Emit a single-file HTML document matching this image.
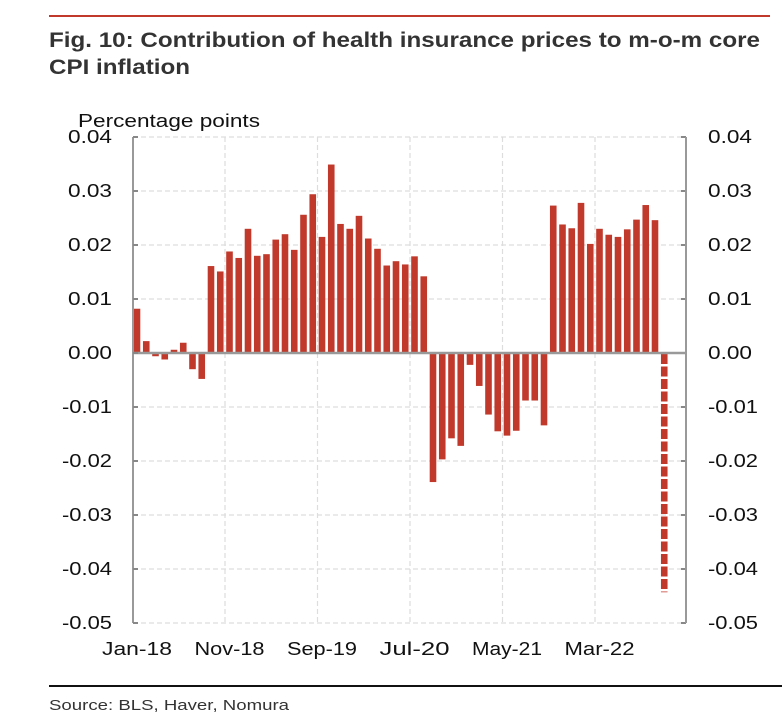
<!DOCTYPE html>
<html><head><meta charset="utf-8"><style>
body{margin:0;background:#fff;width:782px;height:720px;overflow:hidden;font-family:"Liberation Sans",Arial,sans-serif}
</style></head><body>
<svg width="782" height="720" xmlns="http://www.w3.org/2000/svg">
<line x1="49" y1="16" x2="770" y2="16" stroke="#c0392b" stroke-width="2"/>
<text x="49" y="47" font-size="21" font-weight="bold" fill="#333" textLength="711" lengthAdjust="spacingAndGlyphs">Fig. 10: Contribution of health insurance prices to m-o-m core</text>
<text x="49" y="74" font-size="21" font-weight="bold" fill="#333" textLength="141" lengthAdjust="spacingAndGlyphs">CPI inflation</text>
<text x="78" y="127" font-size="18" fill="#111" textLength="182" lengthAdjust="spacingAndGlyphs">Percentage points</text>
<g id="grid"></g>
<g id="bars"></g>
<g id="axes"></g>
<line x1="49" y1="686" x2="782" y2="686" stroke="#111" stroke-width="2"/>
<text x="49" y="710" font-size="15" fill="#333" textLength="240" lengthAdjust="spacingAndGlyphs">Source: BLS, Haver, Nomura</text>
</svg>
<script>
const values=[0.0082,0.0022,-0.0006,-0.0012,0.0006,0.0019,-0.003,-0.0048,0.0161,0.0151,0.0188,0.0176,0.023,0.018,0.0183,0.021,0.022,0.0191,0.0256,0.0294,0.0215,0.0349,0.0239,0.023,0.0254,0.0212,0.0193,0.0162,0.017,0.0164,0.0179,0.0142,-0.0239,-0.0197,-0.0158,-0.0172,-0.0022,-0.0061,-0.0114,-0.0145,-0.0153,-0.0144,-0.0088,-0.0088,-0.0134,0.0273,0.0238,0.0231,0.0278,0.0202,0.023,0.0219,0.0215,0.0229,0.0247,0.0274,0.0246,-0.0443];
const dashedIndex=[57];
const yTicks=[0.04,0.03,0.02,0.01,0,-0.01,-0.02,-0.03,-0.04,-0.05];
const yTickLabels=["0.04","0.03","0.02","0.01","0.00","-0.01","-0.02","-0.03","-0.04","-0.05"];
const xTickIndex=[0,10,20,30,40,50];
const xTickLabels=["Jan-18","Nov-18","Sep-19","Jul-20","May-21","Mar-22"];
const NS="http://www.w3.org/2000/svg";
const L=133,R=686,T=137,B=623,step=9.25,x0=137,bw=6.6;
const y=v=>T+(0.04-v)/0.09*(B-T);
const x=i=>x0+i*step;
function mk(tag,attrs,parent){const e=document.createElementNS(NS,tag);for(const k in attrs)e.setAttribute(k,attrs[k]);parent.appendChild(e);return e;}
const grid=document.getElementById('grid'),bars=document.getElementById('bars'),axes=document.getElementById('axes');
yTicks.forEach((t,k)=>{
  if(k>0&&t!==0){const g=mk('line',{x1:L,x2:R,y1:y(t),y2:y(t),stroke:'#ddd','stroke-dasharray':'5,3','stroke-width':1.2},grid);
  
  }
  const lab=yTickLabels[k],len=lab[0]==='-'?50:44;
  const a=mk('text',{x:112-len,y:y(t)+6,'font-size':18,fill:'#111',textLength:len,lengthAdjust:'spacingAndGlyphs'},axes);a.textContent=lab;
  
  
  const b=mk('text',{x:708,y:y(t)+6,'font-size':18,fill:'#111',textLength:len,lengthAdjust:'spacingAndGlyphs'},axes);b.textContent=lab;
  
  
  const tk=mk('line',{x1:R-5,x2:R,y1:y(t),y2:y(t),stroke:'#888','stroke-width':2},axes);
  
  
});
mk('line',{x1:L,x2:R,y1:T,y2:T,stroke:'#ddd','stroke-dasharray':'5,3','stroke-width':1.2},grid);
xTickIndex.forEach((i,k)=>{
  const gx=x(i)-4.5;
  if(i>0){const g=mk('line',{x1:gx,x2:gx,y1:T,y2:B,stroke:'#ddd','stroke-dasharray':'5,3','stroke-width':1.2},grid);
  
  }
  const t=mk('text',{x:x(i)-35,y:655,'font-size':18,fill:'#111',textLength:70,lengthAdjust:'spacingAndGlyphs'},axes);t.textContent=xTickLabels[k];
  
  
});
values.forEach((v,i)=>{
  if(dashedIndex.includes(i)){
    const ln=mk('line',{x1:x(i),x2:x(i),y1:y(0)+1,y2:y(v),stroke:'#c0392b','stroke-width':bw,'stroke-dasharray':'10,2.5'},bars);
    
    
    return;}
  const y1=Math.min(y(v),y(0)),h=Math.abs(y(v)-y(0));
  const r=mk('rect',{x:x(i)-bw/2,y:y1,width:bw,height:h,fill:'#c0392b'},bars);
  
  
});
const z=mk('line',{x1:L,x2:R,y1:y(0),y2:y(0),stroke:'#999','stroke-width':2.5},axes);


const la=mk('line',{x1:L,x2:L,y1:T,y2:B,stroke:'#999','stroke-width':2},axes);


const ra=mk('line',{x1:R,x2:R,y1:T,y2:B,stroke:'#999','stroke-width':2},axes);


yTicks.forEach(t=>{const tk=mk('line',{x1:L,x2:L+5,y1:y(t),y2:y(t),stroke:'#888','stroke-width':2},axes);
  
  });
</script>
</body></html>
